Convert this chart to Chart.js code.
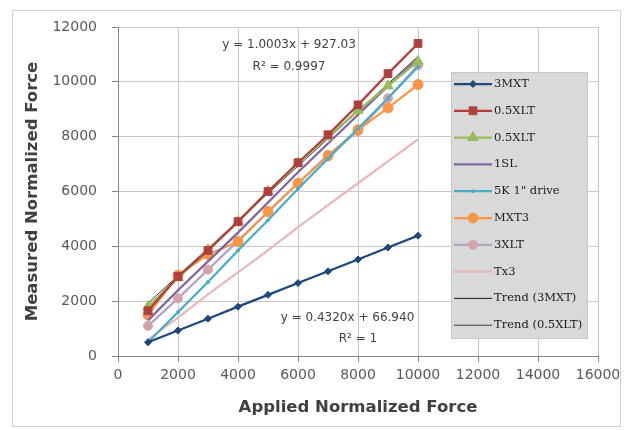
<!DOCTYPE html>
<html>
<head>
<meta charset="utf-8">
<script src="https://cdn.jsdelivr.net/npm/chart.js@4.4.1/dist/chart.umd.min.js"></script>
<style>
  html, body { margin: 0; padding: 0; background: #fff; }
  #wrap { width: 629px; height: 430px; position: relative; }
</style>
</head>
<body>
<div id="wrap"><canvas id="forceChart"></canvas></div>
<script>
// valores
const applied = [1000, 2000, 3000, 4000, 5000, 6000, 7000, 8000, 9000, 10000];

const mxt3 = [500, 930, 1360, 1800, 2230, 2660, 3090, 3520, 3960, 4390];
const xlt05a = [1650, 2900, 3850, 4900, 6000, 7050, 8070, 9160, 10300, 11400];
const xlt05b = [1800, 2850, 3870, 4900, 6000, 7030, 8000, 8950, 9850, 10750];
const sl1 = [1300, 2400, 3450, 4500, 5600, 6700, 7750, 8800, 9850, 10850];
const drive5k = [500, 1600, 2700, 3850, 4950, 6100, 7200, 8300, 9400, 10550];
const mxt3b = [1500, 2950, 3700, 4170, 5270, 6300, 7300, 8250, 9050, 9900];
const xlt3 = [1100, 2100, 3150, 4200, 5250, 6300, 7330, 8200, 9400, 10600];
const tx3 = [600, 1400, 2250, 3050, 3850, 4700, 5500, 6300, 7100, 7900];

// linhas de tendência (extremos)
const trendX = [1000, 10000];
const trendMxt = [499, 4387];
const trendXlt = [1927, 10930];

const xTicks = [0, 2000, 4000, 6000, 8000, 10000, 12000, 14000, 16000];
const yTicks = [0, 2000, 4000, 6000, 8000, 10000, 12000];

const seriesLabels = ['3MXT', '0.5XLT', '0.5XLT', '1SL', '5K 1" drive', 'MXT3', '3XLT', 'Tx3', 'Trend (3MXT)', 'Trend (0.5XLT)'];

const eqLabels = [
  { text: 'y = 1.0003x + 927.03', x: 5700, y: 11330 },
  { text: 'R\u00b2 = 0.9997', x: 5700, y: 10560 },
  { text: 'y = 0.4320x + 66.940', x: 7650, y: 1390 },
  { text: 'R\u00b2 = 1', x: 8000, y: 620 }
];

const pts = (xs, ys) => xs.map((x, i) => ({ x, y: ys[i] }));

function series(label, ys, color, extra) {
  return Object.assign({
    label,
    data: pts(applied, ys),
    showLine: true,
    borderColor: color,
    backgroundColor: color,
    pointBackgroundColor: color,
    pointBorderColor: color,
    borderWidth: 2.25,
    pointRadius: 0,
    pointBorderWidth: 1
  }, extra || {});
}

const datasets = [
  series(seriesLabels[0], mxt3, '#1f497d', { pointStyle: 'rectRot', pointRadius: 3.5 }),
  series(seriesLabels[1], xlt05a, '#b0403d', { pointStyle: 'rect', pointRadius: 5.5 }),
  series(seriesLabels[2], xlt05b, '#9bbb59', { pointStyle: 'triangle', pointRadius: 6 }),
  series(seriesLabels[3], sl1, '#8064a2'),
  series(seriesLabels[4], drive5k, '#4bacc6', { pointRadius: 1.5 }),
  series(seriesLabels[5], mxt3b, '#f79646', { pointStyle: 'circle', pointRadius: 5 }),
  series(seriesLabels[6], xlt3, '#b3a2c7', { pointStyle: 'circle', pointRadius: 4.5, pointBackgroundColor: '#d4a5a8', pointBorderColor: '#d4a5a8' }),
  series(seriesLabels[7], tx3, '#e6b9b8'),
  { label: seriesLabels[8], data: pts(trendX, trendMxt), showLine: true, borderColor: '#1a1a1a', backgroundColor: '#1a1a1a', borderWidth: 1, pointRadius: 0 },
  { label: seriesLabels[9], data: pts(trendX, trendXlt), showLine: true, borderColor: '#3a3a3a', backgroundColor: '#3a3a3a', borderWidth: 1, pointRadius: 0 }
];

// moldura externa
const framePlugin = {
  id: 'frame',
  beforeDraw(chart) {
    const ctx = chart.ctx;
    ctx.save();
    ctx.fillStyle = '#fff';
    ctx.fillRect(0, 0, chart.width, chart.height);
    ctx.strokeStyle = '#d0d0d0';
    ctx.lineWidth = 1;
    ctx.strokeRect(12.5, 10.5, 608, 416);
    ctx.restore();
  }
};

// textos das equações de tendência
const eqPlugin = {
  id: 'eqText',
  afterDatasetsDraw(chart) {
    const { ctx, scales } = chart;
    ctx.save();
    ctx.font = '12px "DejaVu Sans"';
    ctx.fillStyle = '#404040';
    ctx.textAlign = 'center';
    ctx.textBaseline = 'middle';
    eqLabels.forEach(l => {
      ctx.fillText(l.text, scales.x.getPixelForValue(l.x), scales.y.getPixelForValue(l.y));
    });
    ctx.restore();
  }
};

// legenda dentro da área do gráfico, como no Excel
const boxLegend = {
  id: 'boxLegend',
  afterDraw(chart) {
    const ctx = chart.ctx;
    const bx = 451, by = 72, bw = 136, bh = 266;
    ctx.save();
    ctx.fillStyle = '#d9d9d9';
    ctx.fillRect(bx, by, bw, bh);
    ctx.strokeStyle = '#c8c8c8';
    ctx.strokeRect(bx + 0.5, by + 0.5, bw, bh);
    const step = 26.8;
    chart.data.datasets.forEach((ds, i) => {
      const y = by + 12 + i * step;
      ctx.strokeStyle = ds.borderColor;
      ctx.lineWidth = ds.borderWidth;
      ctx.beginPath();
      ctx.moveTo(bx + 3, y);
      ctx.lineTo(bx + 41, y);
      ctx.stroke();
      if (ds.pointRadius) {
        ctx.fillStyle = ds.pointBackgroundColor;
        ctx.strokeStyle = ds.pointBorderColor;
        ctx.lineWidth = 1;
        Chart.helpers.drawPoint(ctx, { pointStyle: ds.pointStyle || 'circle', radius: ds.pointRadius, rotation: 0, borderWidth: 1 }, bx + 22, y);
      }
      ctx.fillStyle = '#1a1a1a';
      ctx.font = '11.5px "DejaVu Serif"';
      ctx.textAlign = 'left';
      ctx.textBaseline = 'middle';
      ctx.fillText(ds.label, bx + 43, y);
    });
    ctx.restore();
  }
};

new Chart(document.getElementById('forceChart'), {
  type: 'scatter',
  data: { datasets },
  options: {
    responsive: true,
    maintainAspectRatio: false,
    animation: false,
    layout: { padding: { left: 12, right: 31, top: 27, bottom: 0 } },
    plugins: {
      legend: { display: false },
      tooltip: { enabled: false }
    },
    scales: {
      x: {
        type: 'linear',
        min: 0,
        max: 16000,
        afterBuildTicks: (axis) => { axis.ticks = xTicks.map(v => ({ value: v })); },
        afterFit: (axis) => { axis.height = 74; },
        ticks: {
          color: '#595959',
          font: { family: 'DejaVu Sans', size: 14 },
          padding: 5,
          maxRotation: 0,
          callback: (v) => String(v)
        },
        grid: { color: '#c8c8c8', tickLength: 6, tickColor: '#868686' },
        border: { color: '#868686' },
        title: {
          display: true,
          text: 'Applied Normalized Force',
          color: '#404040',
          font: { family: 'DejaVu Sans', size: 16.5, weight: 'bold' },
          padding: { top: 0, bottom: 12 }
        }
      },
      y: {
        type: 'linear',
        min: 0,
        max: 12000,
        afterBuildTicks: (axis) => { axis.ticks = yTicks.map(v => ({ value: v })); },
        afterFit: (axis) => { axis.width = 106; },
        ticks: {
          color: '#595959',
          font: { family: 'DejaVu Sans', size: 14 },
          padding: 15,
          callback: (v) => String(v)
        },
        grid: { color: '#c8c8c8', tickLength: 6, tickColor: '#868686' },
        border: { color: '#868686' },
        title: {
          display: true,
          text: 'Measured Normalized Force',
          color: '#404040',
          font: { family: 'DejaVu Sans', size: 16.5, weight: 'bold' },
          padding: { top: 11, bottom: 0 }
        }
      }
    }
  },
  plugins: [framePlugin, eqPlugin, boxLegend]
});
</script>
</body>
</html>
